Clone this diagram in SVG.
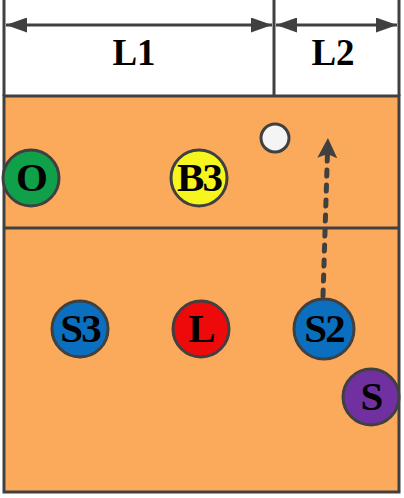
<svg xmlns="http://www.w3.org/2000/svg" width="404" height="498" viewBox="0 0 404 498">
<defs>
<marker id="ah" viewBox="0 0 10 10" refX="10" refY="5" markerWidth="7" markerHeight="5" orient="auto-start-reverse" markerUnits="strokeWidth" preserveAspectRatio="none">
<path d="M0,0 L10,5 L0,10 Z" fill="#404040"/>
</marker>
<marker id="ah2" viewBox="0 0 10 10" refX="3" refY="5" markerWidth="4" markerHeight="4" orient="auto" markerUnits="strokeWidth">
<path d="M0,0 L10,5 L0,10 L2,5 Z" fill="#404040"/>
</marker>
</defs>
<style>
.ln{stroke:#404040;stroke-width:3;fill:none}
.pl{stroke:#404040;stroke-width:3}
.lbl{font-family:"Liberation Serif",serif;font-weight:bold;fill:#000;text-anchor:middle}
.big{font-size:37px}
.nt{font-size:41px;letter-spacing:-2px}
</style>
<rect x="0" y="0" width="404" height="498" fill="#ffffff"/>
<g id="court">
<rect x="4" y="96" width="395" height="396" class="ln" style="fill:#FBAA5C"/>
<line x1="4" y1="228" x2="399" y2="228" class="ln"/>
</g>
<g id="dimensions">
<line x1="4" y1="0" x2="4" y2="96" class="ln"/>
<line x1="274" y1="0" x2="274" y2="96" class="ln"/>
<line x1="399" y1="0" x2="399" y2="96" class="ln"/>
<text x="134" y="65" class="lbl big">L1</text>
<text x="333" y="65" class="lbl big">L2</text>
</g>
<g id="connectors">
<line x1="6" y1="25" x2="272" y2="25" class="ln" marker-start="url(#ah)" marker-end="url(#ah)"/>
<line x1="276" y1="25" x2="397" y2="25" class="ln" marker-start="url(#ah)" marker-end="url(#ah)"/>
<line x1="323" y1="296" x2="327.5" y2="152" stroke="#404040" stroke-width="5" stroke-linecap="round" stroke-dasharray="6,9" marker-end="url(#ah2)"/>
</g>
<g id="ball"><circle cx="275" cy="138" r="14" fill="#F4F4F4" class="pl"/></g>
<g id="O"><circle cx="31" cy="178" r="28" fill="#10A04A" class="pl"/><text x="31" y="191" class="lbl nt">O</text></g>
<g id="B3"><circle cx="199" cy="178" r="28" fill="#F6F61E" class="pl"/><text x="199" y="191" class="lbl nt">B3</text></g>
<g id="S3"><circle cx="80" cy="329" r="28" fill="#0B6FC0" class="pl"/><text x="80" y="342" class="lbl nt">S3</text></g>
<g id="L"><circle cx="201" cy="329" r="28" fill="#EE0A0A" class="pl"/><text x="201" y="342" class="lbl nt">L</text></g>
<g id="S2"><circle cx="324" cy="329" r="30" fill="#0B6FC0" class="pl"/><text x="324" y="342" class="lbl nt">S2</text></g>
<g id="S"><circle cx="371" cy="397" r="28" fill="#7030A0" class="pl"/><text x="371" y="410" class="lbl nt">S</text></g>
</svg>
